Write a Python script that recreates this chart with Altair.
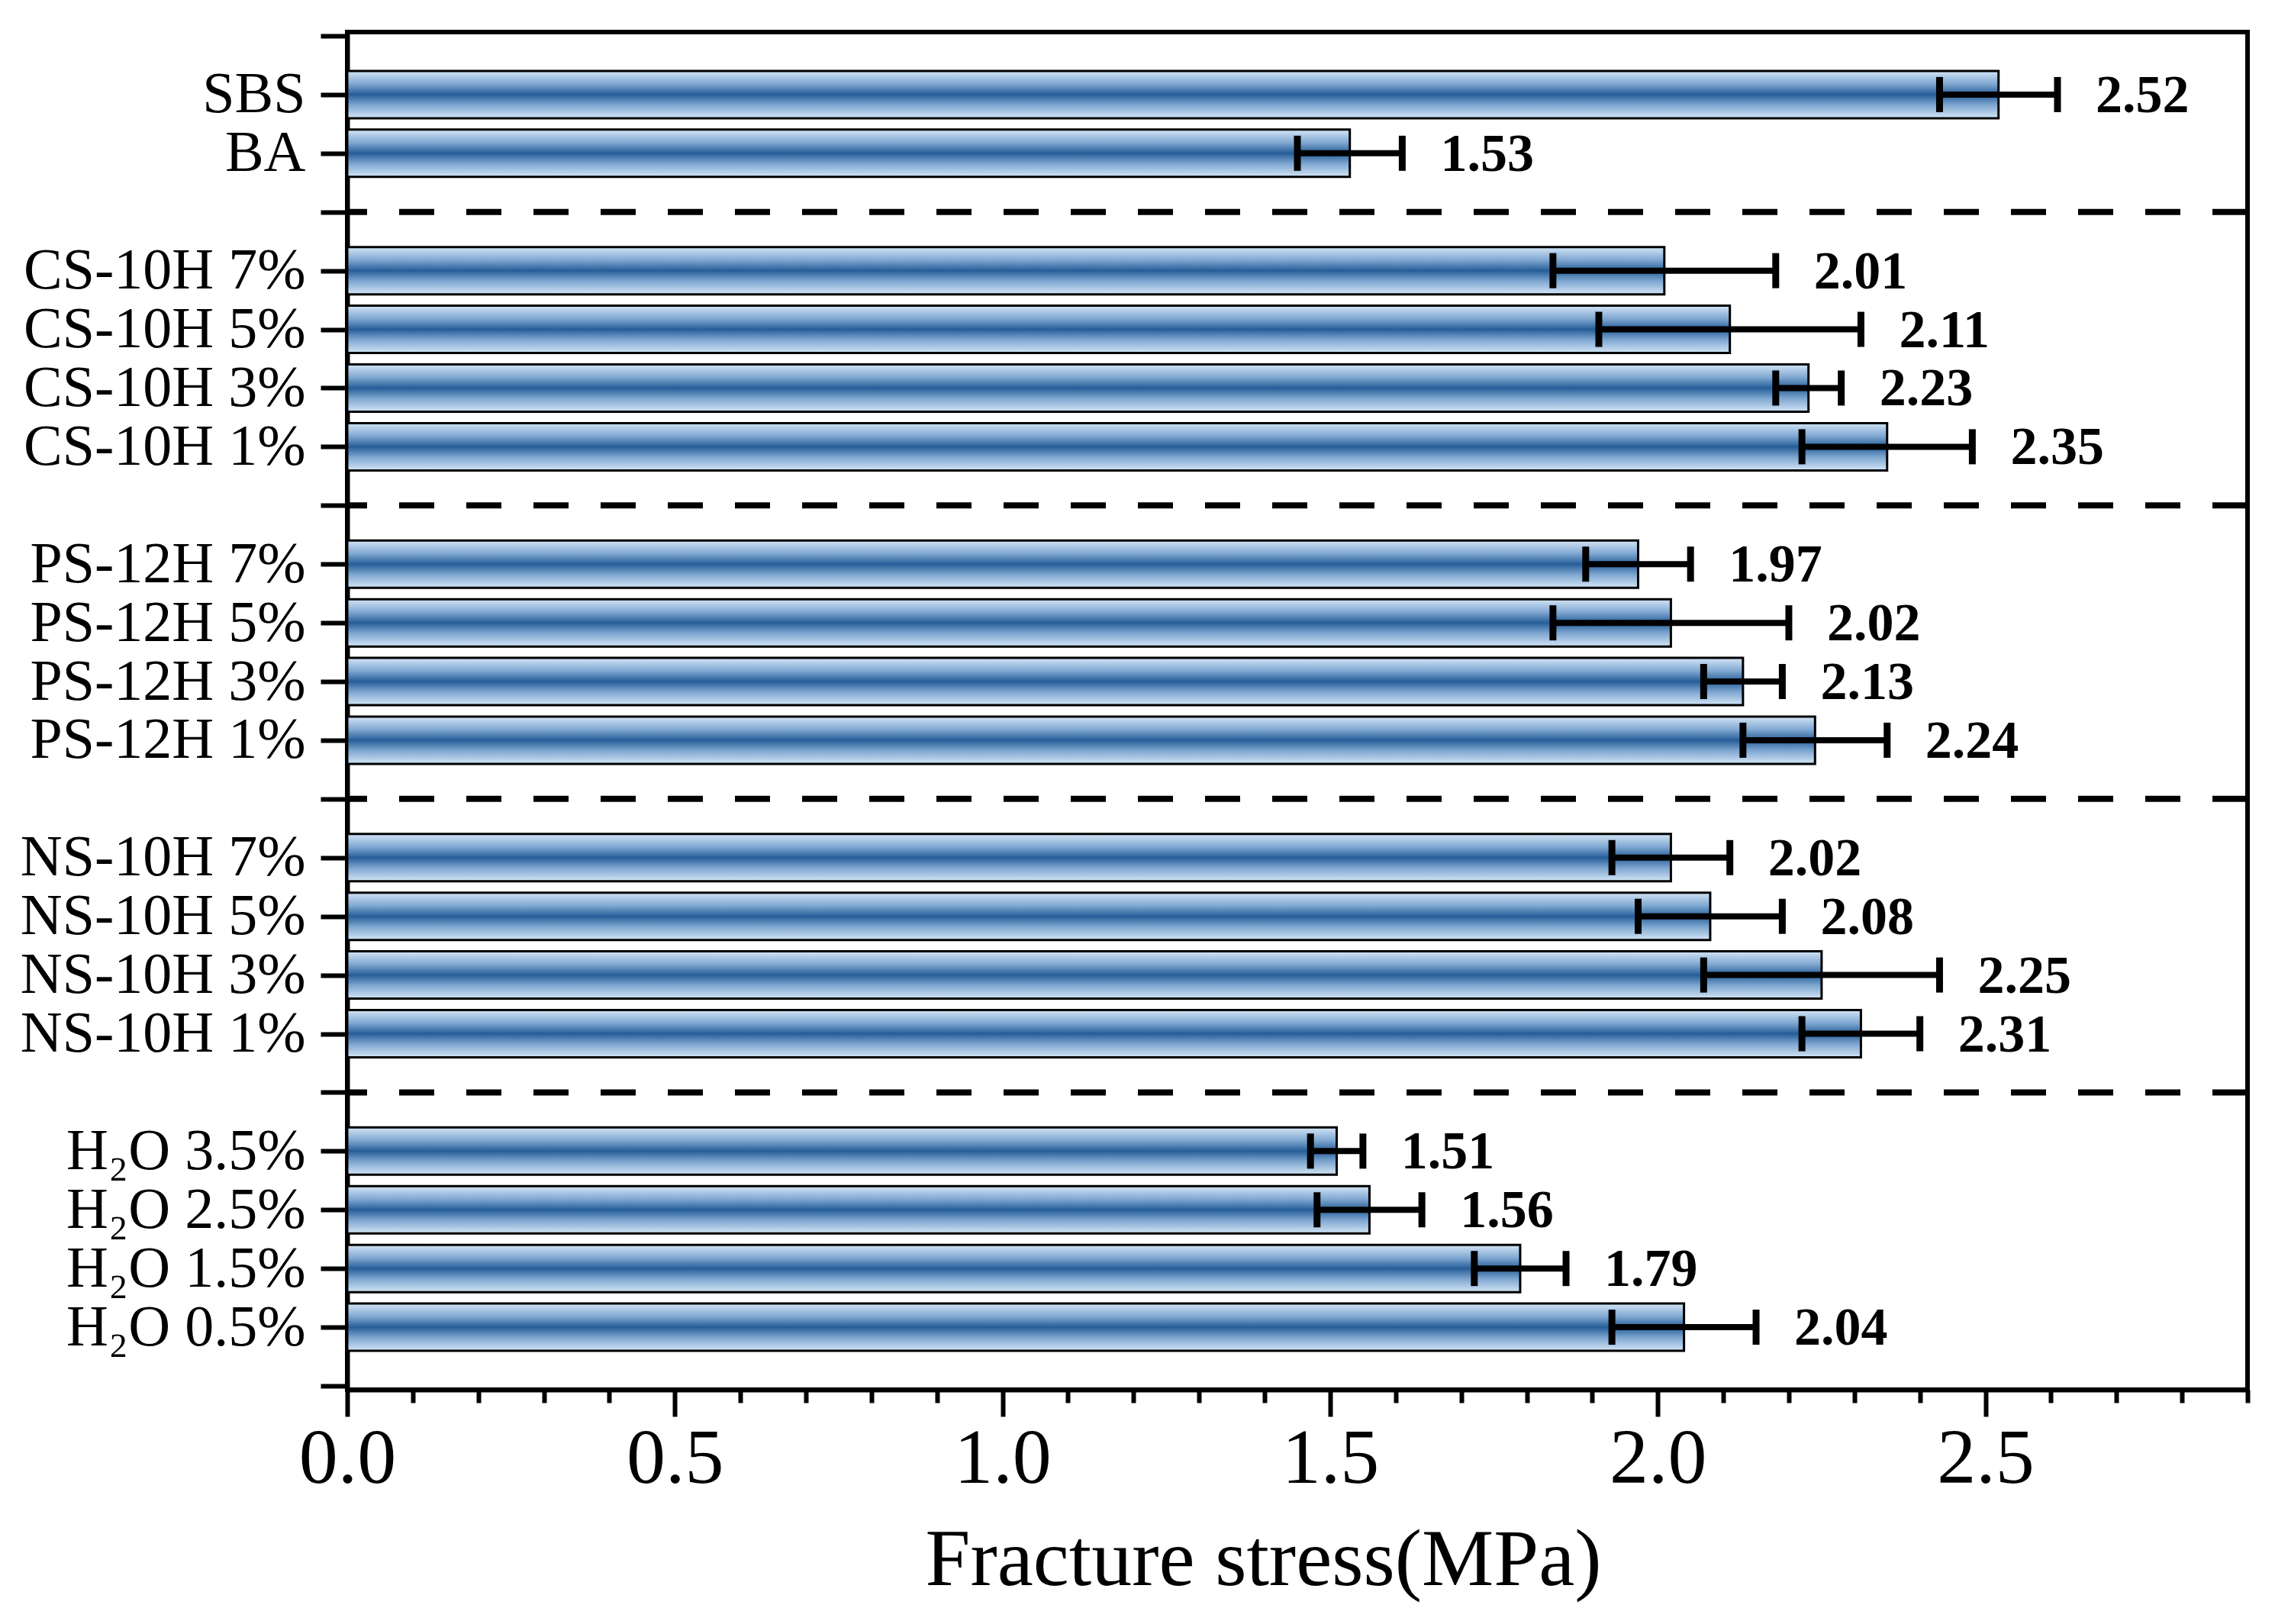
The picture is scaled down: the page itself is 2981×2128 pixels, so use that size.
import pandas as pd
import altair as alt

# bar labels, top to bottom, split into the five groups of the figure
group_sizes = [2, 4, 4, 4, 4]
labels = [
    'SBS', 'BA',
    'CS-10H 7%', 'CS-10H 5%', 'CS-10H 3%', 'CS-10H 1%',
    'PS-12H 7%', 'PS-12H 5%', 'PS-12H 3%', 'PS-12H 1%',
    'NS-10H 7%', 'NS-10H 5%', 'NS-10H 3%', 'NS-10H 1%',
    'H₂O 3.5%', 'H₂O 2.5%', 'H₂O 1.5%', 'H₂O 0.5%',
]
# fracture stress (MPa) and error bar half-width
stress = [2.52, 1.53,
          2.01, 2.11, 2.23, 2.35,
          1.97, 2.02, 2.13, 2.24,
          2.02, 2.08, 2.25, 2.31,
          1.51, 1.56, 1.79, 2.04]
err = [0.09, 0.08,
       0.17, 0.20, 0.05, 0.13,
       0.08, 0.18, 0.06, 0.11,
       0.09, 0.11, 0.18, 0.09,
       0.04, 0.08, 0.07, 0.11]

# slot positions on the y axis: one slot per bar, one empty slot between groups
positions = []
separators = []
slot = len(labels) + len(group_sizes) - 1
for g, n in enumerate(group_sizes):
    for i in range(n):
        positions.append(slot)
        slot -= 1
    if g < len(group_sizes) - 1:
        separators.append(slot)
        slot -= 1
y_max = len(labels) + len(group_sizes)

df = pd.DataFrame({'label': labels, 'stress': stress, 'err': err, 'pos': positions})
df['lo'] = df['stress'] - df['err']
df['hi'] = df['stress'] + df['err']
sep_df = pd.DataFrame({'pos': separators})

FONT = 'Liberation Serif'

# y axis labels: only at bar slots
label_expr = "''"
for p, lab in zip(positions, labels):
    label_expr = f"datum.value == {p} ? '{lab}' : ({label_expr})"

x_major = 'abs(datum.value*2 - round(datum.value*2)) < 0.001'
y_major = 'abs(datum.value - round(datum.value)) < 0.001'

x_scale = alt.Scale(domain=[0, 2.9], nice=False, zero=True)
y_scale = alt.Scale(domain=[0, y_max], nice=False)

x_axis = alt.Axis(
    title='Fracture stress(MPa)',
    values=[round(0.1 * k, 1) for k in range(30)],
    labelExpr=f"{x_major} ? format(datum.value, '.1f') : ''",
    tickSize={'condition': {'test': x_major, 'value': 35}, 'value': 17},
    labelFontSize=102, titleFontSize=106, labelPadding=5, titlePadding=30,
    titleFontWeight='normal', labelFlush=False, grid=False, titleX=1200,
)
y_axis = alt.Axis(
    title=None,
    values=[k * 0.5 for k in range(2 * y_max + 1)],
    labelExpr=label_expr,
    tickSize={'condition': {'test': y_major, 'value': 35}, 'value': 17},
    labelFontSize=76, labelPadding=20, labelFlush=False, labelLimit=0,
    grid=False,
)

gradient = alt.Gradient(
    gradient='linear', x1=0, x2=0, y1=0, y2=1,
    stops=[alt.GradientStop(color='#d3e5f6', offset=0),
           alt.GradientStop(color='#7ea6d0', offset=0.28),
           alt.GradientStop(color='#265e99', offset=0.5),
           alt.GradientStop(color='#7ea6d0', offset=0.72),
           alt.GradientStop(color='#d3e5f6', offset=1)],
)

base = alt.Chart(df)

bars = base.mark_bar(orient='horizontal', size=62, fill=gradient,
                     stroke='black', strokeWidth=3).encode(
    x=alt.X('stress:Q', scale=x_scale, axis=x_axis),
    y=alt.Y('pos:Q', scale=y_scale, axis=y_axis),
)

err_line = base.mark_rule(color='black', strokeWidth=8).encode(
    x='lo:Q', x2='hi:Q', y='pos:Q'
)
cap_lo = base.mark_tick(orient='vertical', size=46, thickness=9, color='black', opacity=1).encode(
    x='lo:Q', y='pos:Q'
)
cap_hi = base.mark_tick(orient='vertical', size=46, thickness=9, color='black', opacity=1).encode(
    x='hi:Q', y='pos:Q'
)

values_text = base.mark_text(align='left', baseline='middle', dx=50, dy=2,
                             fontSize=70, fontWeight='bold', font=FONT,
                             color='black').encode(
    x='hi:Q', y='pos:Q', text=alt.Text('stress:Q', format='.2f')
)

seps = alt.Chart(sep_df).mark_rule(color='black', strokeWidth=8,
                                   strokeDash=[46, 42]).encode(
    y='pos:Q'
)

chart = alt.layer(bars, err_line, cap_lo, cap_hi, values_text, seps).properties(
    width=2490, height=1779,
    autosize=alt.AutoSizeParams(type='none'),
    padding={'left': 447, 'top': 34, 'right': 20, 'bottom': 290},
).configure_view(
    stroke='black', strokeWidth=6
).configure_axis(
    domainColor='black', domainWidth=6, tickColor='black', tickWidth=6,
    labelColor='black', titleColor='black', labelFont=FONT, titleFont=FONT,
)

chart.save('out.html', embed_options={'renderer': 'svg', 'actions': False})
